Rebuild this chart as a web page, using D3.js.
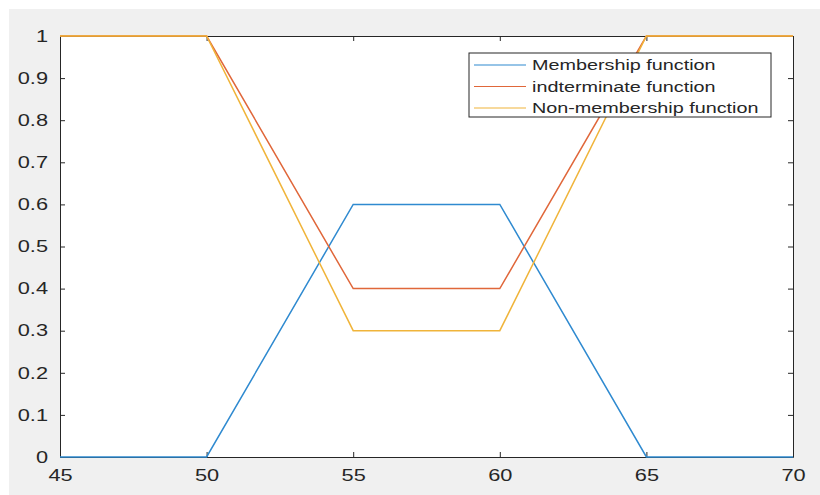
<!DOCTYPE html>
<html>
<head>
<meta charset="utf-8">
<script src="https://cdn.jsdelivr.net/npm/d3@7"></script>
<style>
    body { margin: 0; background: #fff; }
    svg { display: block; }
    text { font-family: "Liberation Sans", Arial, sans-serif; }
</style>
</head>
<body>
<svg id="chart"></svg>
<script>
// data
var xs = [45, 50, 55, 60, 65, 70];
var membership = [0, 0, 0.6, 0.6, 0, 0];
var indeterminate = [1, 1, 0.4, 0.4, 1, 1];
var nonMembership = [1, 1, 0.3, 0.3, 1, 1];
var seriesNames = ["Membership function", "indterminate function", "Non-membership function"];
var xTicks = [45, 50, 55, 60, 65, 70];
var yTicks = [0, 0.1, 0.2, 0.3, 0.4, 0.5, 0.6, 0.7, 0.8, 0.9, 1];

var width = 820,
    height = 495;

var colors = ["#2f8ad0", "#e0673a", "#f0b43a"];
// the source image is stretched sideways, so text is too
var stretch = 1.32;

var svg = d3.select('#chart')
    .attr('width', width)
    .attr('height', height);

// figure background
svg.append('rect')
    .attr('x', 9)
    .attr('y', 9)
    .attr('width', width - 9)
    .attr('height', height - 9)
    .attr('fill', '#f0f0f0');

var pLeft = 60, pRight = 793, pTop = 36, pBottom = 457;

var x = d3.scaleLinear().domain([45, 70]).range([pLeft, pRight]);
var y = d3.scaleLinear().domain([0, 1]).range([pBottom, pTop]);

svg.append('rect')
    .attr('x', pLeft)
    .attr('y', pTop)
    .attr('width', pRight - pLeft)
    .attr('height', pBottom - pTop)
    .attr('fill', '#fff');

// axes, ticks pointing inward like matlab
var xAxis = svg.append('g')
    .attr('transform', 'translate(0,' + pBottom + ')')
    .call(d3.axisBottom(x).tickValues(xTicks).tickSizeInner(-5).tickSizeOuter(0).tickPadding(10));
var xAxisTop = svg.append('g')
    .attr('transform', 'translate(0,' + pTop + ')')
    .call(d3.axisTop(x).tickValues(xTicks).tickSizeInner(-5).tickSizeOuter(0).tickFormat(''));
var yAxis = svg.append('g')
    .attr('transform', 'translate(' + pLeft + ',0)')
    .call(d3.axisLeft(y).tickValues(yTicks).tickSizeInner(-5).tickSizeOuter(0).tickPadding(12)
        .tickFormat(function (d) { return d3.format('~g')(d); }));
var yAxisRight = svg.append('g')
    .attr('transform', 'translate(' + pRight + ',0)')
    .call(d3.axisRight(y).tickValues(yTicks).tickSizeInner(-5).tickSizeOuter(0).tickFormat(''));

[xAxis, xAxisTop, yAxis, yAxisRight].forEach(function (a) {
    a.select('.domain').attr('stroke', '#262626').attr('stroke-width', 1);
    a.selectAll('.tick line').attr('stroke', '#262626');
    a.selectAll('text')
        .attr('fill', '#262626')
        .style('font-size', '16.5px')
        .attr('x', function () { return (+d3.select(this).attr('x') || 0) / stretch; })
        .attr('transform', 'scale(' + stretch + ',1)');
});
xAxis.selectAll('text').attr('dy', '0.85em');

// lines
var allSeries = [membership, indeterminate, nonMembership];
var line = d3.line()
    .x(function (d, i) { return x(xs[i]); })
    .y(function (d) { return y(d); });

svg.append('g').selectAll('path')
    .data(allSeries)
    .enter().append('path')
    .attr('d', line)
    .attr('fill', 'none')
    .attr('stroke', function (d, i) { return colors[i]; })
    .attr('stroke-width', 1.5);

// legend
var legend = svg.append('g').attr('transform', 'translate(469,53)');
legend.append('rect')
    .attr('width', 302)
    .attr('height', 64)
    .attr('fill', '#fff')
    .attr('stroke', '#262626')
    .attr('stroke-width', 1);

var rows = legend.selectAll('g.row')
    .data(seriesNames)
    .enter().append('g')
    .attr('class', 'row')
    .attr('transform', function (d, i) { return 'translate(0,' + (12 + i * 21.5) + ')'; });

rows.append('line')
    .attr('x1', 5)
    .attr('x2', 57)
    .attr('stroke', function (d, i) { return colors[i]; })
    .attr('stroke-width', 1.2);

rows.append('text')
    .attr('x', 63 / stretch)
    .attr('dy', '0.35em')
    .attr('transform', 'scale(' + stretch + ',1)')
    .attr('fill', '#262626')
    .style('font-size', '15px')
    .text(function (d) { return d; });
</script>
</body>
</html>
